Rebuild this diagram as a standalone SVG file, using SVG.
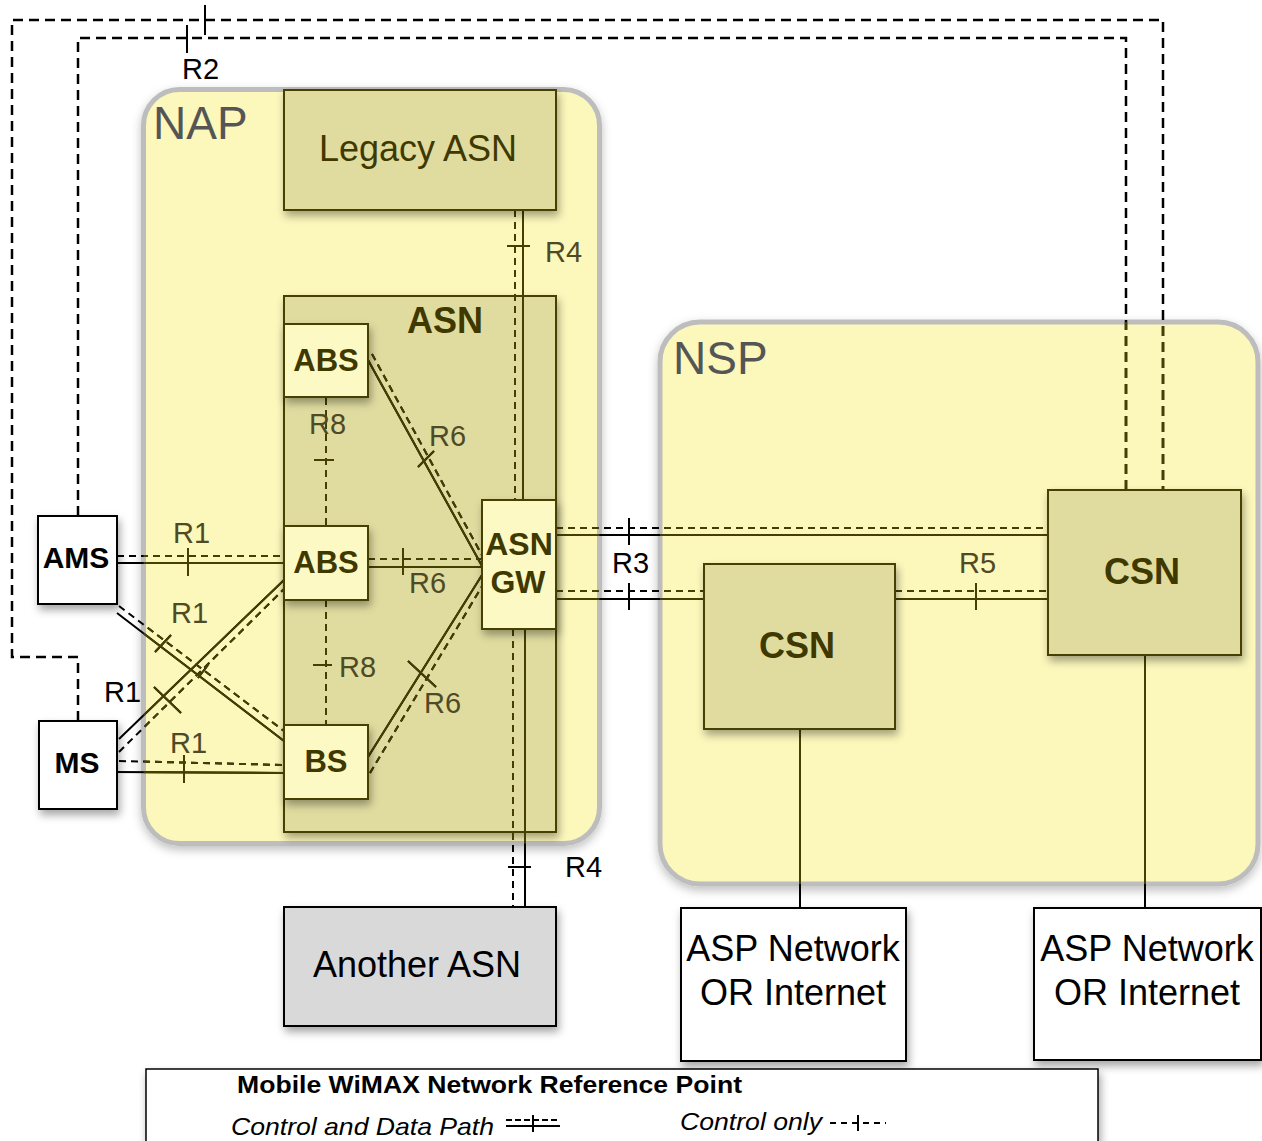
<svg xmlns="http://www.w3.org/2000/svg" xmlns:xlink="http://www.w3.org/1999/xlink" width="1262" height="1141" viewBox="0 0 1262 1141">
<style>
text{font-family:"Liberation Sans",Arial,sans-serif}
.s{fill:none;stroke:currentColor;stroke-width:2}
.d{fill:none;stroke:currentColor;stroke-width:2;stroke-dasharray:7 5}
.d2{fill:none;stroke:currentColor;stroke-width:2.5;stroke-dasharray:10 6}
.region{fill:#fcf7bb;stroke:#bdbdbd;stroke-width:5}
.rlab{font-size:46px;fill:#555}
.inbox{fill:#fdf9c5;stroke:#463f00;stroke-width:2}
.olbox{fill:#e0dca0;stroke:#463f00;stroke-width:2}
.wbox{fill:#fff;stroke:#000;stroke-width:2}
.bold{font-weight:bold}
.ol{fill:#3f3900}
.lab{font-size:29px}
.lin{fill:#4f4a26}
.lout{fill:#000}
.big{font-size:36px}
</style>
<defs>
<filter id="sh" x="-20%" y="-20%" width="150%" height="150%">
<feDropShadow dx="2" dy="5" stdDeviation="4" flood-color="#000" flood-opacity="0.35"/>
</filter>
<filter id="shr" x="-10%" y="-10%" width="130%" height="130%">
<feDropShadow dx="0" dy="4" stdDeviation="5" flood-color="#000" flood-opacity="0.25"/>
</filter>
<clipPath id="inside">
<rect x="143.5" y="89.5" width="456" height="754" rx="36"/>
<rect x="660" y="322" width="598" height="562" rx="40"/>
</clipPath>
</defs>

<g id="nap">
<rect class="region" x="143.5" y="89.5" width="456" height="754" rx="36" filter="url(#shr)"/>
<text class="rlab" x="153" y="139">NAP</text>
</g>
<g id="nsp">
<rect class="region" x="660" y="322" width="598" height="562" rx="40" filter="url(#shr)"/>
<text class="rlab" x="673" y="374">NSP</text>
</g>

<g id="asn">
<rect class="olbox" x="284" y="296" width="272" height="536" stroke-width="2.5" filter="url(#sh)"/>
<text class="bold ol big" x="445" y="333" text-anchor="middle">ASN</text>
</g>

<g color="#000">
<g id="connectors">
<!-- R2 -->
<path class="d2" d="M78,721 V657 H12 V20 H1163 V490"/>
<path class="d2" d="M78,516 V38 H1126 V490"/>
<path class="s" d="M205,5 V35 M187,25 V53"/>
<!-- R1 AMS-ABS -->
<path class="d" d="M117,556 H284"/>
<path class="s" d="M117,563 H284 M188,548 V576"/>
<!-- R1 AMS-BS -->
<path class="s" d="M117,613 L284,741 M155,652 L171,635"/>
<path class="d" d="M119,606 L284,731"/>
<path class="s" d="M198,678 L208,665"/>
<!-- R1 MS-ABS -->
<path class="s" d="M119,739 L284,580 M154,687 L181,713"/>
<path class="d" d="M119,752 L284,589"/>
<!-- R1 MS-BS -->
<path class="d" d="M119,761 L284,765"/>
<path class="s" d="M113,772 L284,773 M184,755 V783"/>
<!-- R8 -->
<path class="d" d="M326,398 V526 M326,600 V725"/>
<path class="s" d="M314,460 H334 M313,665 H332"/>
<!-- R6 -->
<path class="s" d="M368,360 L482,566 M418,467 L434,451"/>
<path class="d" d="M372,354 L483,557"/>
<path class="d" d="M368,559 H482"/>
<path class="s" d="M368,567 H482 M403,548 V575"/>
<path class="s" d="M368,757 L482,575 M408,661 L436,687"/>
<path class="d" d="M370,773 L484,583"/>
<!-- R4 -->
<path class="d" d="M515,210 V500 M513,629 V907"/>
<path class="s" d="M523,210 V500 M507,246 H530 M525,629 V907 M508,867 H531"/>
<!-- R3 -->
<path class="d" d="M556,528 H1048 M556,591 H704"/>
<path class="s" d="M556,535 H1048 M629,518 V545 M556,599 H704 M629,583 V610"/>
<!-- R5 -->
<path class="d" d="M895,591 H1048"/>
<path class="s" d="M895,599 H1048 M976,583 V610"/>
<!-- CSN to ASP -->
<path class="s" d="M800,729 V908 M1145,655 V908"/>
</g>
</g>
<use xlink:href="#connectors" href="#connectors" color="#453f00" clip-path="url(#inside)"/>

<g id="labels">
<text class="lab lout" x="182" y="79">R2</text>
<text class="lab lin" x="545" y="262">R4</text>
<text class="lab lout" x="565" y="877">R4</text>
<text class="lab lin" x="309" y="434">R8</text>
<text class="lab lin" x="339" y="677">R8</text>
<text class="lab lin" x="429" y="446">R6</text>
<text class="lab lin" x="409" y="593">R6</text>
<text class="lab lin" x="424" y="713">R6</text>
<text class="lab lin" x="173" y="543">R1</text>
<text class="lab lin" x="171" y="623">R1</text>
<text class="lab lout" x="104" y="702">R1</text>
<text class="lab lin" x="170" y="753">R1</text>
<text class="lab lout" x="612" y="573">R3</text>
<text class="lab lin" x="959" y="573">R5</text>
</g>

<g id="legacy-asn">
<rect class="olbox" x="284" y="90" width="272" height="120" filter="url(#sh)"/>
<text class="ol big" x="418" y="161" text-anchor="middle">Legacy ASN</text>
</g>
<g id="abs-top">
<rect class="inbox" x="284" y="324" width="84" height="73" filter="url(#sh)"/>
<text class="bold ol" font-size="31" x="326" y="371" text-anchor="middle">ABS</text>
</g>
<g id="abs-mid">
<rect class="inbox" x="284" y="526" width="84" height="74" filter="url(#sh)"/>
<text class="bold ol" font-size="31" x="326" y="573" text-anchor="middle">ABS</text>
</g>
<g id="bs">
<rect class="inbox" x="284" y="725" width="84" height="74" filter="url(#sh)"/>
<text class="bold ol" font-size="31" x="326" y="772" text-anchor="middle">BS</text>
</g>
<g id="asn-gw">
<rect class="inbox" x="482" y="500" width="74" height="129" filter="url(#sh)"/>
<text class="bold ol" font-size="32" x="519" y="555" text-anchor="middle">ASN</text>
<text class="bold ol" font-size="32" x="518" y="593" text-anchor="middle">GW</text>
</g>
<g id="ams">
<rect class="wbox" x="38" y="516" width="79" height="88" filter="url(#sh)"/>
<text class="bold" font-size="30" x="76" y="568" text-anchor="middle">AMS</text>
</g>
<g id="ms">
<rect class="wbox" x="39" y="721" width="78" height="88" filter="url(#sh)"/>
<text class="bold" font-size="30" x="77" y="773" text-anchor="middle">MS</text>
</g>
<g id="another-asn">
<rect x="284" y="907" width="272" height="119" fill="#d9d9d9" stroke="#000" stroke-width="2" filter="url(#sh)"/>
<text class="big" x="417" y="977" text-anchor="middle">Another ASN</text>
</g>
<g id="csn-1">
<rect class="olbox" x="704" y="564" width="191" height="165" filter="url(#sh)"/>
<text class="bold ol big" x="797" y="658" text-anchor="middle">CSN</text>
</g>
<g id="csn-2">
<rect class="olbox" x="1048" y="490" width="193" height="165" filter="url(#sh)"/>
<text class="bold ol big" x="1142" y="584" text-anchor="middle">CSN</text>
</g>
<g id="asp-1">
<rect class="wbox" x="681" y="908" width="225" height="153" filter="url(#sh)"/>
<text class="big" x="793" y="961" text-anchor="middle">ASP Network</text>
<text class="big" x="793" y="1005" text-anchor="middle">OR Internet</text>
</g>
<g id="asp-2">
<rect class="wbox" x="1034" y="908" width="227" height="152" filter="url(#sh)"/>
<text class="big" x="1147" y="961" text-anchor="middle">ASP Network</text>
<text class="big" x="1147" y="1005" text-anchor="middle">OR Internet</text>
</g>

<g id="legend">
<rect x="146" y="1069" width="952" height="90" fill="#fff" stroke="#000" stroke-width="1.5" filter="url(#sh)"/>
<text class="bold" font-size="24" x="237" y="1093" textLength="505" lengthAdjust="spacingAndGlyphs">Mobile WiMAX Network Reference Point</text>
<text font-size="24" font-style="italic" x="231" y="1135" textLength="263" lengthAdjust="spacingAndGlyphs">Control and Data Path</text>
<text font-size="24" font-style="italic" x="680" y="1130" textLength="142" lengthAdjust="spacingAndGlyphs">Control only</text>
<path d="M506,1120 H560" fill="none" stroke="#000" stroke-width="2" stroke-dasharray="6 3"/>
<path d="M506,1126 H560 M533,1115 V1132" fill="none" stroke="#000" stroke-width="2"/>
<path d="M830,1123 H886" fill="none" stroke="#000" stroke-width="2" stroke-dasharray="6 5"/>
<path d="M858,1115 V1131" fill="none" stroke="#000" stroke-width="2"/>
</g>
</svg>
